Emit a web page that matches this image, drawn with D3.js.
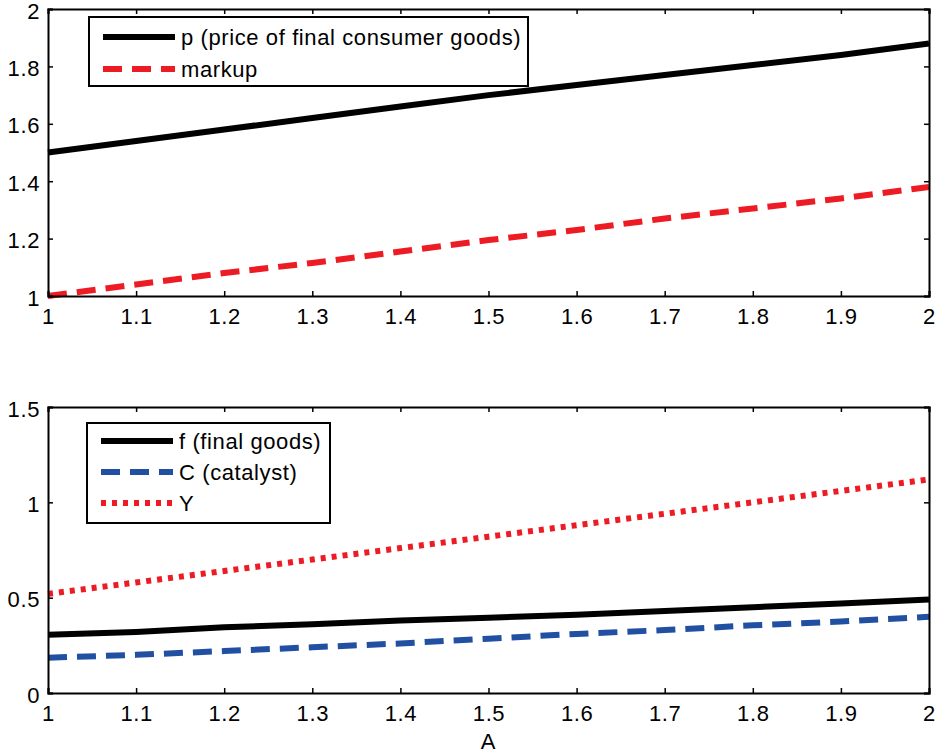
<!DOCTYPE html>
<html>
<head>
<meta charset="utf-8">
<script src="https://cdn.jsdelivr.net/npm/d3@7"></script>
<style>
body { margin: 0; background: #fff; }
text { font-family: "Liberation Sans", Arial, sans-serif; }
</style>
</head>
<body>
<div id="main"></div>
<script>
const ctx = {
    w: 940,
    h: 754,
    left: 48,
    right: 929,
    tickLen: 5,
    fontSize: 22,
    spacing: "0.6px",
};

// shared x values (A)
const A_VALUES = [1, 1.1, 1.2, 1.3, 1.4, 1.5, 1.6, 1.7, 1.8, 1.9, 2];
const X_TICKS = [1, 1.1, 1.2, 1.3, 1.4, 1.5, 1.6, 1.7, 1.8, 1.9, 2];

// top panel series
const P_PRICE = [1.50, 1.54, 1.58, 1.62, 1.66, 1.70, 1.735, 1.77, 1.805, 1.84, 1.88];
const MARKUP = [1.00, 1.04, 1.08, 1.115, 1.155, 1.195, 1.23, 1.27, 1.305, 1.34, 1.38];
const TOP_Y_TICKS = [1, 1.2, 1.4, 1.6, 1.8, 2];

// bottom panel series
const F_FINAL = [0.305, 0.32, 0.345, 0.36, 0.38, 0.395, 0.41, 0.43, 0.45, 0.47, 0.49];
const C_CATALYST = [0.185, 0.20, 0.22, 0.24, 0.26, 0.285, 0.31, 0.33, 0.355, 0.375, 0.40];
const Y_OUTPUT = [0.52, 0.58, 0.64, 0.70, 0.76, 0.82, 0.88, 0.94, 1.00, 1.06, 1.12];
const BOTTOM_Y_TICKS = [0, 0.5, 1, 1.5];

const panels = [
    {
        top: 9, bottom: 296, domain: [1, 2], yTicks: TOP_Y_TICKS,
        series: [
            { name: "p (price of final consumer goods)", values: P_PRICE, color: "#000", width: 6, dash: null },
            { name: "markup", values: MARKUP, color: "#ed1c24", width: 6, dash: "19,10" },
        ],
        legend: { x: 89, y: 17, w: 439, h: 69, rowH: 32, firstRow: 20 },
    },
    {
        top: 407, bottom: 693, domain: [0, 1.5], yTicks: BOTTOM_Y_TICKS,
        series: [
            { name: "f (final goods)", values: F_FINAL, color: "#000", width: 6, dash: null },
            { name: "C (catalyst)", values: C_CATALYST, color: "#2150a3", width: 6, dash: "19,10" },
            { name: "Y", values: Y_OUTPUT, color: "#ed1c24", width: 6, dash: "5,6" },
        ],
        legend: { x: 87, y: 423, w: 243, h: 100, rowH: 31, firstRow: 18 },
        xLabel: "A",
    },
];

function styleText(sel) {
    sel.attr("fill", "#000")
        .style("font-size", ctx.fontSize + "px")
        .style("letter-spacing", ctx.spacing)
        .style("font-family", "'Liberation Sans', Arial, sans-serif");
}

function drawPanel(svg, panel) {
    const x = d3.scaleLinear().domain([1, 2]).range([ctx.left, ctx.right]);
    const y = d3.scaleLinear().domain(panel.domain).range([panel.bottom, panel.top]);
    const g = svg.append("g");

    // data lines
    const line = d3.line().x((d, i) => x(A_VALUES[i])).y(d => y(d));
    panel.series.forEach(function (s) {
        g.append("path")
            .datum(s.values)
            .attr("d", line)
            .attr("fill", "none")
            .attr("stroke", s.color)
            .attr("stroke-width", s.width)
            .attr("stroke-dasharray", s.dash);
    });

    // axes with inward ticks on all four sides
    const fmt = d3.format("~g");
    g.append("g")
        .attr("transform", `translate(0,${panel.bottom})`)
        .call(d3.axisBottom(x).tickValues(X_TICKS).tickSize(-ctx.tickLen).tickPadding(12).tickFormat(fmt));
    g.append("g")
        .attr("transform", `translate(0,${panel.top})`)
        .call(d3.axisTop(x).tickValues(X_TICKS).tickSize(-ctx.tickLen).tickFormat(""));
    const yAxisG = g.append("g")
        .attr("transform", `translate(${ctx.left},0)`)
        .call(d3.axisLeft(y).tickValues(panel.yTicks).tickSize(-ctx.tickLen).tickPadding(8).tickFormat(fmt));
    yAxisG.selectAll(".tick text").attr("y", 2);
    g.append("g")
        .attr("transform", `translate(${ctx.right},0)`)
        .call(d3.axisRight(y).tickValues(panel.yTicks).tickSize(-ctx.tickLen).tickFormat(""));
    g.selectAll(".domain").attr("stroke", "#000").attr("stroke-width", 2);
    g.selectAll(".tick line").attr("stroke", "#000").attr("stroke-width", 1.5);
    g.selectAll(".tick text").call(styleText);

    // legend
    const L = panel.legend;
    const lg = g.append("g").attr("transform", `translate(${L.x},${L.y})`);
    lg.append("rect")
        .attr("width", L.w).attr("height", L.h)
        .attr("fill", "#fff").attr("stroke", "#000").attr("stroke-width", 2);
    panel.series.forEach(function (s, i) {
        const ry = L.firstRow + i * L.rowH;
        lg.append("line")
            .attr("x1", 14).attr("x2", 86)
            .attr("y1", ry).attr("y2", ry)
            .attr("stroke", s.color)
            .attr("stroke-width", s.width)
            .attr("stroke-dasharray", s.dash);
        lg.append("text")
            .attr("x", 92).attr("y", ry + 8)
            .text(s.name)
            .call(styleText);
    });

    if (panel.xLabel) {
        svg.append("text")
            .attr("x", (ctx.left + ctx.right) / 2)
            .attr("y", 749)
            .attr("text-anchor", "middle")
            .text(panel.xLabel)
            .call(styleText);
    }
}

function createViz() {
    const svg = d3.select("#main").append("svg")
        .attr("width", ctx.w)
        .attr("height", ctx.h);
    panels.forEach(p => drawPanel(svg, p));
}

createViz();
</script>
</body>
</html>
